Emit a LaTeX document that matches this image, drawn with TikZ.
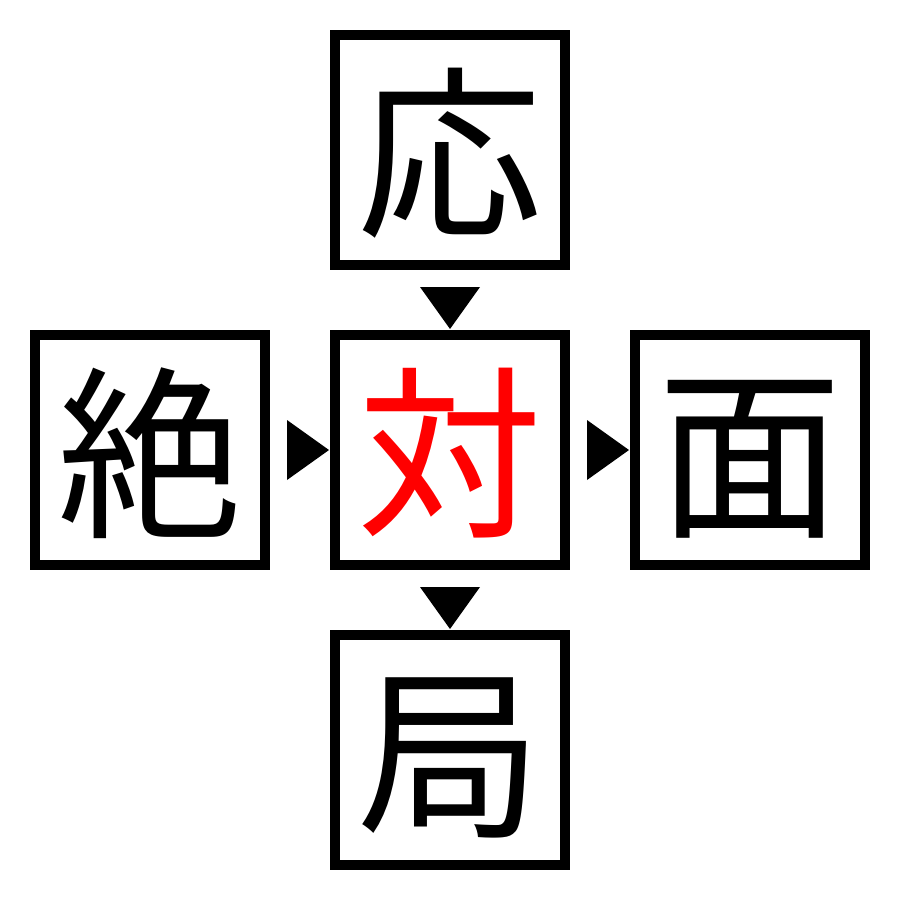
\documentclass[tikz,border=0pt]{standalone}
\usepackage{fontspec}
\newfontfamily\cjk{Noto Sans CJK JP}
\usetikzlibrary{calc}
\begin{document}
\begin{tikzpicture}[x=1pt,y=-1pt,
  kbox/.style={draw=black,line width=10pt,minimum size=230pt,inner sep=0pt},
  kchar/.style={inner sep=0pt,anchor=base,font=\cjk\fontsize{185pt}{185pt}\selectfont},
  tri/.style={fill=black}]
\useasboundingbox (0,0) rectangle (900,900);
\node[kbox] (top) at (450,150) {};
\node[kbox] (left) at (150,450) {};
\node[kbox] (mid) at (450,450) {};
\node[kbox] (right) at (750,450) {};
\node[kbox] (bot) at (450,750) {};
\node[kchar] (topc) at ($(top)+(0,73)$) {応};
\node[kchar] (leftc) at ($(left)+(0,73)$) {絶};
\node[kchar,text=red] (midc) at ($(mid)+(0,73)$) {対};
\node[kchar] (rightc) at ($(right)+(0,73)$) {面};
\node[kchar] (botc) at ($(bot)+(0,73)$) {局};
% top -> mid
\fill[tri] ($(top.south)+(-30,17)$) -- ($(top.south)+(30,17)$) -- ($(top.south)+(0,59)$) -- cycle;
% mid -> bot
\fill[tri] ($(mid.south)+(-30,17)$) -- ($(mid.south)+(30,17)$) -- ($(mid.south)+(0,59)$) -- cycle;
% left -> mid
\fill[tri] ($(left.east)+(17,-30)$) -- ($(left.east)+(17,30)$) -- ($(left.east)+(59,0)$) -- cycle;
% mid -> right
\fill[tri] ($(mid.east)+(17,-30)$) -- ($(mid.east)+(17,30)$) -- ($(mid.east)+(59,0)$) -- cycle;
\end{tikzpicture}
\end{document}
